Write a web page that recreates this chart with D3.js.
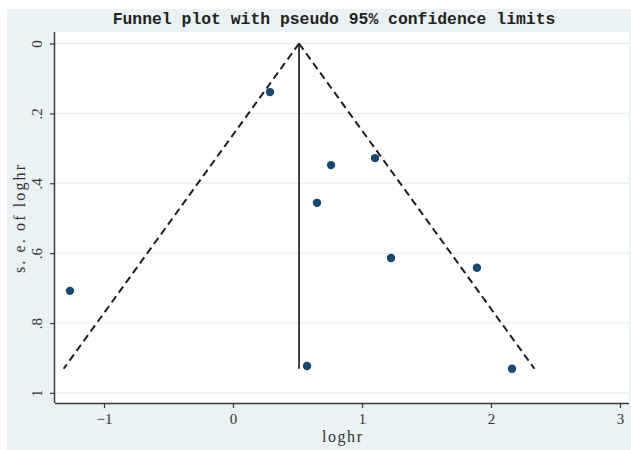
<!DOCTYPE html>
<html>
<head>
<meta charset="utf-8">
<script src="https://cdn.jsdelivr.net/npm/d3@7"></script>
<style>
html,body{margin:0;padding:0;background:#fff;}
svg{display:block;}
</style>
</head>
<body>
<svg id="chart" width="631" height="450"></svg>
<script>
// Study estimates (log hazard ratio) and standard errors
const loghr = [0.287, -1.264, 0.760, 1.101, 0.651, 1.225, 1.891, 0.574, 2.163];
const seLoghr = [0.139, 0.708, 0.348, 0.328, 0.456, 0.614, 0.642, 0.923, 0.931];
// Pooled estimate line and pseudo 95% confidence limits (endpoints)
const pooledLine = [[0.512, 0], [0.512, 0.931]];
const lowerLimit = [[0.512, 0], [-1.313, 0.931]];
const upperLimit = [[0.512, 0], [2.337, 0.931]];
const xTicks = [-1, 0, 1, 2, 3];
const yTicks = [0, 0.2, 0.4, 0.6, 0.8, 1];
const yTickLabels = ["0", ".2", ".4", ".6", ".8", "1"];
const titleText = "Funnel plot with pseudo 95% confidence limits";
const xTitle = "loghr";
const yTitle = "s. e. of loghr";

const svg = d3.select("#chart");
const L = 55, R = 629, T = 32, B = 403;

svg.append("rect").attr("x", 7).attr("y", 9).attr("width", 624).attr("height", 441).attr("fill", "#eaf2f3");
svg.append("rect").attr("x", L).attr("y", T).attr("width", R - L).attr("height", B - T).attr("fill", "#ffffff");

const x = d3.scaleLinear().domain([-1.38, 3.07]).range([L, R]);
const y = d3.scaleLinear().domain([-0.033, 1.029]).range([T, B]);

// gridlines
svg.append("g").selectAll("line").data(yTicks).join("line")
  .attr("x1", L).attr("x2", R)
  .attr("y1", d => y(d)).attr("y2", d => y(d))
  .attr("stroke", "#e3edf1").attr("stroke-width", 1);

// axes
const xAxis = d3.axisBottom(x).tickValues(xTicks).tickSize(5).tickPadding(5).tickFormat(d => d < 0 ? "\u2212" + Math.abs(d) : d);
const gx = svg.append("g").attr("transform", `translate(0,${B})`).call(xAxis);
gx.select(".domain").attr("d", `M${L},0.5H${R}`).attr("stroke", "#3a3a3a").attr("stroke-width", 1.5);
gx.selectAll(".tick line").attr("stroke", "#3a3a3a").attr("stroke-width", 1.2);
gx.selectAll(".tick text").attr("font-family", "Liberation Serif, serif").attr("font-size", 15).attr("fill", "#333");

const yAxis = d3.axisLeft(y).tickValues(yTicks).tickSize(5).tickPadding(0).tickFormat((d, i) => yTickLabels[i]);
const gy = svg.append("g").attr("transform", `translate(${L},0)`).call(yAxis);
gy.select(".domain").attr("d", `M-0.5,${T}V${B}`).attr("stroke", "#3a3a3a").attr("stroke-width", 1.5);
gy.selectAll(".tick line").attr("stroke", "#3a3a3a").attr("stroke-width", 1.2);
gy.selectAll(".tick text")
  .attr("font-family", "Liberation Serif, serif").attr("font-size", 15).attr("fill", "#333")
  .attr("x", null).attr("dy", null)
  .attr("text-anchor", "middle")
  .attr("transform", "translate(-13,0) rotate(-90)");

// funnel lines
const line = d3.line().x(d => x(d[0])).y(d => y(d[1]));
svg.append("path").attr("d", line(pooledLine)).attr("fill", "none").attr("stroke", "#2b2b2b").attr("stroke-width", 1.8);
[lowerLimit, upperLimit].forEach(p => {
  svg.append("path").attr("d", line(p)).attr("fill", "none").attr("stroke", "#1e1e1e")
    .attr("stroke-width", 2).attr("stroke-dasharray", "7.5,4.5");
});

// points
svg.append("g").selectAll("circle").data(loghr).join("circle")
  .attr("cx", d => x(d)).attr("cy", (d, i) => y(seLoghr[i])).attr("r", 4.2)
  .attr("fill", "#1a476f");

// titles
svg.append("text").attr("x", 334).attr("y", 24).attr("text-anchor", "middle")
  .attr("font-family", "Liberation Mono, monospace").attr("font-weight", "bold").attr("font-size", 16.4)
  .attr("fill", "#222").text(titleText);
svg.append("text").attr("x", 342).attr("y", 442).attr("text-anchor", "middle")
  .attr("font-family", "Liberation Serif, serif").attr("font-size", 16).attr("fill", "#333")
  .attr("textLength", 40).attr("lengthAdjust", "spacing").text(xTitle);
svg.append("text").attr("transform", "translate(25,219) rotate(-90)").attr("text-anchor", "middle")
  .attr("font-family", "Liberation Serif, serif").attr("font-size", 16).attr("fill", "#333")
  .attr("textLength", 108).attr("lengthAdjust", "spacing").text(yTitle);
</script>
</body>
</html>
